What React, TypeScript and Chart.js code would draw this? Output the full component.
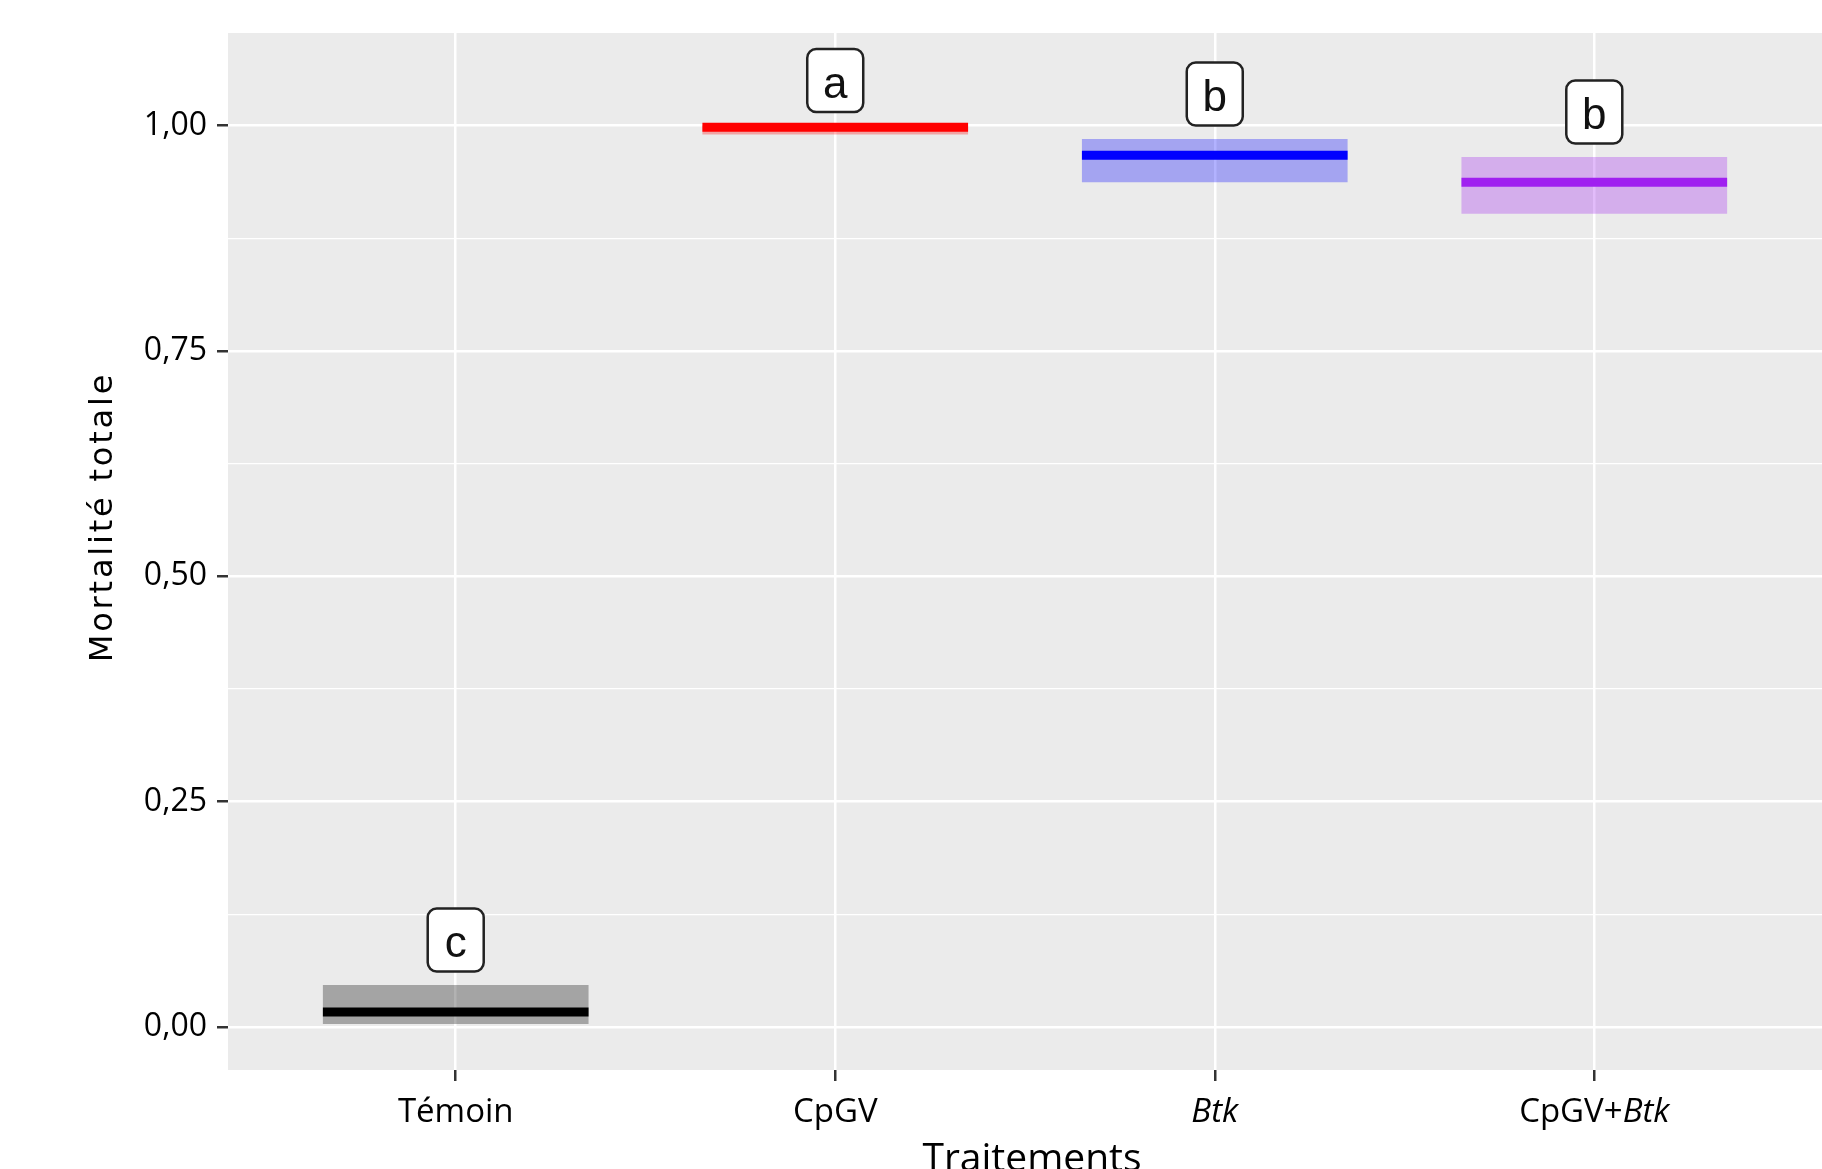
import React, { useEffect, useRef } from 'react';
import { Chart, registerables } from 'chart.js';

Chart.register(...registerables);

// ---- data ----
const categories = ['Témoin', 'CpGV', 'Btk', 'CpGV+Btk'];
const italicWord = 'Btk';
const xPositions = [1, 2, 3, 4];
const meanValues = [0.0166, 0.998, 0.967, 0.937];
const lowerValues = [0.0033, 0.99, 0.937, 0.902];
const upperValues = [0.0466, 1.0, 0.985, 0.965];
const groupLetters = ['c', 'a', 'b', 'b'];
const lineColors = ['#000000', '#FF0000', '#0000FF', '#A020F0'];
const boxColors = ['rgba(0,0,0,0.3)', 'rgba(255,0,0,0.3)', 'rgba(0,0,255,0.3)', 'rgba(160,32,240,0.3)'];
const yMajorTicks = [0, 0.25, 0.5, 0.75, 1.0];
const yMinorTicks = [0.125, 0.375, 0.625, 0.875];
const yTitle = 'Mortalité totale';
const xTitle = 'Traitements';

// ---- rendering constants ----
const MEAN_HALF = 0.005; // half thickness of the mean line, in axis units
const LABEL_OFFSET = 0.05; // letter label sits this far above the upper limit
const Y_MIN = -0.0477;
const Y_MAX = 1.1026;
const X_MIN = 0.4;
const X_MAX = 4.6;

const isMajor = (v: any) => yMajorTicks.some((t) => Math.abs(t - Number(v)) < 1e-9);

const panelPlugin = {
  id: 'panelBg',
  beforeDraw(chart: any) {
    const { ctx, chartArea } = chart;
    ctx.save();
    ctx.fillStyle = '#EBEBEB';
    ctx.fillRect(chartArea.left, chartArea.top, chartArea.right - chartArea.left, chartArea.bottom - chartArea.top);
    ctx.restore();
  },
};

const annotPlugin = {
  id: 'annot',
  afterDatasetsDraw(chart: any) {
    const { ctx } = chart;
    const xs = chart.scales.x;
    const ys = chart.scales.y;
    ctx.save();
    groupLetters.forEach((letter, i) => {
      const cx = xs.getPixelForValue(xPositions[i]);
      const cy = ys.getPixelForValue(upperValues[i] + LABEL_OFFSET);
      const w = 56;
      const h = 63;
      ctx.beginPath();
      (ctx as any).roundRect(cx - w / 2, cy - h / 2, w, h, 9);
      ctx.fillStyle = '#FFFFFF';
      ctx.fill();
      ctx.lineWidth = 2.5;
      ctx.strokeStyle = '#222222';
      ctx.stroke();
      ctx.fillStyle = '#111111';
      ctx.font = '44px "Liberation Sans", Arial, sans-serif';
      ctx.textAlign = 'center';
      ctx.textBaseline = 'alphabetic';
      ctx.fillText(letter, cx, cy + 17.5);
    });
    ctx.restore();
  },
  afterDraw(chart: any) {
    const { ctx, chartArea } = chart;
    const xs = chart.scales.x;
    ctx.save();
    ctx.fillStyle = '#000000';
    ctx.textBaseline = 'alphabetic';
    ctx.textAlign = 'left';
    const normalFont = '33px "Open Sans", sans-serif';
    const italicFont = 'italic 33px "Open Sans", sans-serif';
    categories.forEach((cat, i) => {
      const parts: { t: string; it: boolean }[] = [];
      const idx = cat.indexOf(italicWord);
      if (idx < 0) parts.push({ t: cat, it: false });
      else {
        if (idx > 0) parts.push({ t: cat.slice(0, idx), it: false });
        parts.push({ t: italicWord, it: true });
        if (idx + italicWord.length < cat.length) parts.push({ t: cat.slice(idx + italicWord.length), it: false });
      }
      let total = 0;
      const widths = parts.map((p) => {
        ctx.font = p.it ? italicFont : normalFont;
        const wv = ctx.measureText(p.t).width;
        total += wv;
        return wv;
      });
      let x = xs.getPixelForValue(xPositions[i]) - total / 2;
      const y = chartArea.bottom + 52;
      parts.forEach((p, k) => {
        ctx.font = p.it ? italicFont : normalFont;
        ctx.fillText(p.t, x, y);
        x += widths[k];
      });
    });
    // x title
    ctx.font = '39px "Open Sans", sans-serif';
    ctx.textAlign = 'center';
    ctx.fillStyle = '#000000';
    ctx.fillText(xTitle, (chartArea.left + chartArea.right) / 2 + 7, chartArea.bottom + 101);
    // y title
    ctx.save();
    ctx.translate(112, 517);
    ctx.rotate(-Math.PI / 2);
    ctx.font = '32px "DejaVu Sans", sans-serif';
    (ctx as any).letterSpacing = '2.8px';
    ctx.textAlign = 'center';
    ctx.fillText(yTitle, 0, 0);
    ctx.restore();
    ctx.restore();
  },
};

export default function App() {
  const ref = useRef<HTMLCanvasElement>(null);
  useEffect(() => {
    document.body.style.margin = '0';
    const canvas = ref.current!;
    const boxData = xPositions.map((x, i) => ({ x, y: [lowerValues[i], upperValues[i]] }));
    const meanData = xPositions.map((x, i) => ({ x, y: [meanValues[i] - MEAN_HALF, meanValues[i] + MEAN_HALF] }));
    const chart = new Chart(canvas, {
      type: 'bar',
      data: {
        datasets: [
          {
            data: boxData as any,
            backgroundColor: boxColors,
            borderWidth: 0,
            grouped: false,
            barPercentage: 0.7,
            categoryPercentage: 1,
            order: 2,
          } as any,
          {
            data: meanData as any,
            backgroundColor: lineColors,
            borderWidth: 0,
            grouped: false,
            barPercentage: 0.7,
            categoryPercentage: 1,
            order: 1,
          } as any,
        ],
      },
      options: {
        animation: false,
        responsive: false,
        devicePixelRatio: 1,
        layout: { padding: { top: 33, left: 0, right: 0, bottom: 0 } },
        plugins: { legend: { display: false }, tooltip: { enabled: false } },
        scales: {
          x: {
            type: 'linear',
            min: X_MIN,
            max: X_MAX,
            offset: false,
            afterBuildTicks: (s: any) => {
              s.ticks = xPositions.map((v) => ({ value: v }));
            },
            afterFit: (s: any) => {
              s.height = 99;
            },
            ticks: { display: false },
            grid: {
              offset: false,
              color: '#FFFFFF',
              lineWidth: 2.5,
              drawTicks: true,
              tickLength: 11,
              tickColor: '#333333',
              tickWidth: 2.5,
            },
            border: { display: false },
          } as any,
          y: {
            type: 'linear',
            min: Y_MIN,
            max: Y_MAX,
            afterBuildTicks: (s: any) => {
              s.ticks = [...yMajorTicks, ...yMinorTicks].sort((a, b) => a - b).map((v) => ({ value: v }));
            },
            afterFit: (s: any) => {
              s.width = 228;
            },
            ticks: {
              padding: 10,
              autoSkip: false,
              color: '#000000',
              font: { family: '"Open Sans", sans-serif', size: 32 },
              callback: (v: any) => (isMajor(v) ? Number(v).toFixed(2).replace('.', ',') : ''),
            },
            grid: {
              offset: false,
              color: '#FFFFFF',
              lineWidth: (c: any) => (isMajor(c.tick?.value) ? 2.5 : 1.2),
              tickLength: 11,
              tickColor: (c: any) => (isMajor(c.tick?.value) ? '#333333' : 'rgba(0,0,0,0)'),
              tickWidth: 2.5,
            },
            border: { display: false },
          } as any,
        },
      },
      plugins: [panelPlugin, annotPlugin],
    });
    return () => chart.destroy();
  }, []);
  return (
    <div style={{ width: 1822, height: 1169 }}>
      <canvas ref={ref} width={1822} height={1169} style={{ display: 'block' }} />
    </div>
  );
}
